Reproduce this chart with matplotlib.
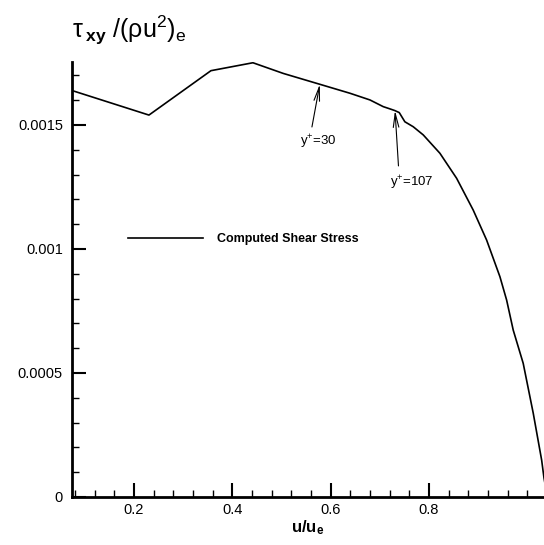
import matplotlib
matplotlib.use("Agg")
from matplotlib import pyplot as plt
from matplotlib.ticker import MultipleLocator

plt.rcParams['font.family'] = ['Liberation Sans', 'DejaVu Sans']
plt.rcParams['mathtext.fontset'] = 'custom'
plt.rcParams['mathtext.rm'] = 'Liberation Sans'
plt.rcParams['mathtext.it'] = 'Liberation Sans:italic'
plt.rcParams['mathtext.bf'] = 'Liberation Sans:bold'

# shear stress profile
u = [0.074, 0.2305, 0.3566, 0.442, 0.5036, 0.5783, 0.6393, 0.68, 0.707,
     0.7206, 0.7308, 0.7396, 0.751, 0.768, 0.7884, 0.8223, 0.8563, 0.89,
     0.9173, 0.9444, 0.958, 0.9714, 0.9917, 1.0121, 1.0292, 1.034, 1.04]
tau = [0.001639, 0.00154, 0.001719, 0.001751, 0.001708, 0.001664, 0.001628,
       0.001601, 0.001574, 0.001565, 0.001558, 0.00155, 0.001513, 0.001493,
       0.00146, 0.001386, 0.001285, 0.001157, 0.001036, 0.000888, 0.000794,
       0.000673, 0.000539, 0.000338, 0.000149, 0.0000766, 0.00001]

xticks = [0.2, 0.4, 0.6, 0.8]
yticks = [0, 0.0005, 0.001, 0.0015]
yticklabels = ["0", "0.0005", "0.001", "0.0015"]

# y+ markers: (label, tip u, tip tau, tail u, tail tau, text u, text tau)
notes = [("y$^{+}$=30", 0.578, 0.001664, 0.562, 0.001492, 0.574, 0.00143),
         ("y$^{+}$=107", 0.731, 0.001558, 0.738, 0.001335, 0.765, 0.001266)]

fig = plt.figure(figsize=(5.44, 5.45), dpi=100)
ax = fig.add_axes([72/544, 48/545, 1 - 72/544, 435/545])

ax.plot(u, tau, color="black", lw=1.2, label="Computed Shear Stress")

ax.set_xlim(0.074, 1.034)
ax.set_ylim(0, 0.001754)

ax.set_xticks(xticks)
ax.set_xticklabels([str(t) for t in xticks])
ax.set_yticks(yticks)
ax.set_yticklabels(yticklabels)
ax.xaxis.set_minor_locator(MultipleLocator(0.04))
ax.yaxis.set_minor_locator(MultipleLocator(0.0001))
ax.tick_params(which="major", direction="in", length=10, width=1.5, labelsize=10.5)
ax.tick_params(which="minor", direction="in", length=5, width=1)
ax.tick_params(axis="x", which="major", pad=4.5)
ax.tick_params(axis="y", which="major", pad=6.5)

for side in ["top", "right"]:
    ax.spines[side].set_visible(False)
for side in ["left", "bottom"]:
    ax.spines[side].set_linewidth(2)

ax.set_xlabel("u/u$_\\mathbf{e}$", fontsize=12, fontweight="bold", labelpad=1)
fig.text(72/544, 1 - 38/545,
         "$\\mathrm{τ}\\,_{\\mathbf{xy}}$ /(ρu$^{2}$)$_{\\mathrm{e}}$",
         fontsize=18, ha="left", va="baseline")

for lab, tu, tt, su, st, xu, xt in notes:
    ax.annotate("", xy=(tu, tt), xytext=(su, st),
                arrowprops=dict(arrowstyle="->,head_length=1.0,head_width=0.2",
                                color="black", lw=0.8, shrinkA=0, shrinkB=0))
    ax.text(xu, xt, lab, fontsize=9.5, ha="center", va="center")

ax.legend(loc="upper left", bbox_to_anchor=(0.0945, 0.632), frameon=False,
          handlelength=6.0, handletextpad=1.1,
          prop={"weight": "bold", "size": 9})

fig.savefig("out.png", dpi=100)
